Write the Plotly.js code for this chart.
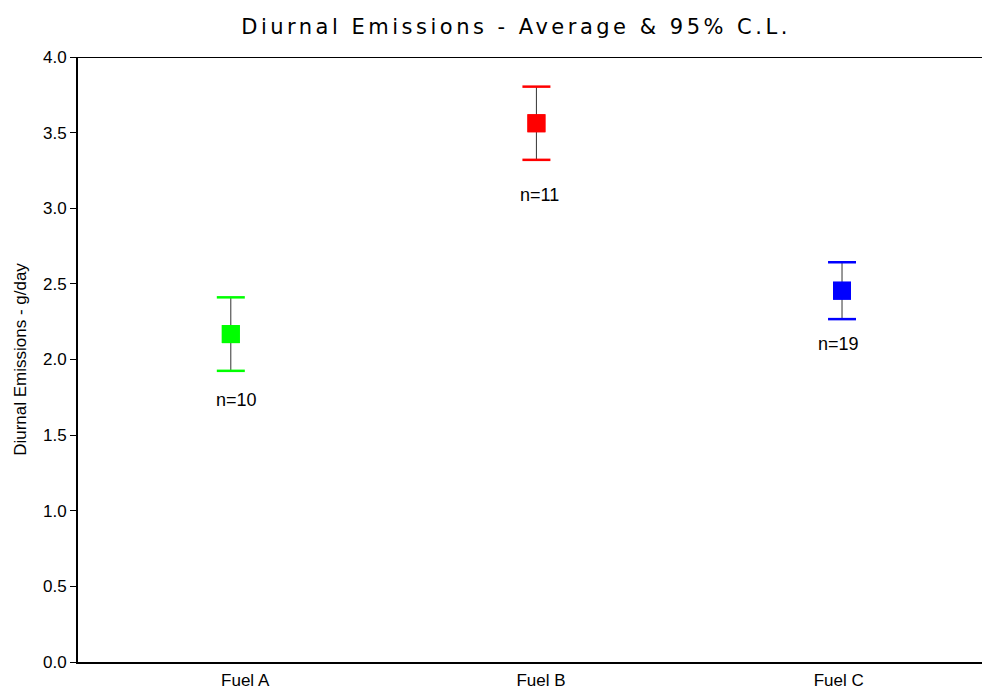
<!DOCTYPE html>
<html>
<head>
<meta charset="utf-8">
<script src="https://cdn.plot.ly/plotly-3.0.1.min.js"></script>
<style>html,body{margin:0;padding:0;background:#fff;}</style>
</head>
<body>
<div id="chart" style="width:982px;height:692px;"></div>
<script>
// Data
var fuels = ["Fuel A", "Fuel B", "Fuel C"];
var fuelX = [1, 2, 3];
var means = [2.168, 3.562, 2.455];
var ci95 = [0.243, 0.242, 0.188];
var nLabels = ["n=10", "n=11", "n=19"];
var nLabelY = [1.73, 3.09, 2.10];
var nLabelX = [1.02, 2.01, 2.99];
var tickPos = [1.047, 2.015, 2.989];
var colors = ["#00ff00", "#ff0000", "#0000ff"];

var upper = means.map(function(m, i){ return m + ci95[i]; });
var lower = means.map(function(m, i){ return m - ci95[i]; });

var FONT = "Arial, 'Liberation Sans', sans-serif";

var stems = {
  x: fuelX, y: means, type: "scatter", mode: "markers",
  marker: {size: 18, symbol: "square", color: colors, line: {width: 0}},
  error_y: {type: "data", array: ci95, visible: true, color: "#333333", thickness: 1, width: 0},
  hoverinfo: "skip", showlegend: false, cliponaxis: false
};
var capsUp = {
  x: fuelX, y: upper, type: "scatter", mode: "markers",
  marker: {symbol: "line-ew", size: 20, color: colors, line: {color: colors, width: 2.5}},
  hoverinfo: "skip", showlegend: false, cliponaxis: false
};
var capsLow = {
  x: fuelX, y: lower, type: "scatter", mode: "markers",
  marker: {symbol: "line-ew", size: 20, color: colors, line: {color: colors, width: 2.5}},
  hoverinfo: "skip", showlegend: false, cliponaxis: false
};
var squares = {
  x: fuelX, y: means, type: "scatter", mode: "markers",
  marker: {size: 18, symbol: "square", color: colors, line: {width: 0}},
  hoverinfo: "skip", showlegend: false, cliponaxis: false
};

var annotations = nLabels.map(function(t, i){
  return {x: nLabelX[i], y: nLabelY[i], xref: "x", yref: "y", text: t, showarrow: false,
    font: {family: FONT, size: 18, color: "#000"}};
});

var layout = {
  width: 982, height: 692,
  margin: {l: 78, r: 0, t: 57, b: 30, pad: 0},
  paper_bgcolor: "#fff", plot_bgcolor: "#fff",
  font: {family: FONT, size: 17, color: "#000"},
  title: {text: "Diurnal Emissions - Average &amp; 95% C.L.", x: 0.5255, xanchor: "center", y: 0.961, yanchor: "middle",
    font: {family: "DejaVu Sans, Verdana, sans-serif", size: 21, color: "#000"}},
  xaxis: {
    range: [0.5, 3.458], showgrid: false, zeroline: false,
    showline: true, linecolor: "#000", linewidth: 2,
    tickmode: "array", tickvals: tickPos, ticktext: fuels,
    ticks: "outside", ticklen: 2, tickcolor: "rgba(0,0,0,0)", tickfont: {family: FONT, size: 17}, fixedrange: true
  },
  yaxis: {
    range: [0, 4], showgrid: false, zeroline: false,
    showline: true, linecolor: "#000", linewidth: 2,
    tickmode: "linear", tick0: 0, dtick: 0.5, tickformat: ".1f",
    ticks: "outside", ticklen: 6, tickwidth: 1, tickcolor: "#000",
    tickfont: {family: FONT, size: 17},
    title: {text: "Diurnal Emissions - g/day", font: {family: FONT, size: 17}, standoff: 12},
    fixedrange: true
  },
  shapes: [{type: "line", xref: "paper", yref: "y", x0: 0, x1: 1, y0: 4, y1: 4,
    line: {color: "#000", width: 2}}],
  annotations: annotations
};

Plotly.newPlot("chart", [stems, capsUp, capsLow, squares], layout, {displayModeBar: false, staticPlot: true}).then(function(gd){
  var t = gd.querySelector(".gtitle");
  if (t) { t.style.letterSpacing = "3.5px"; }
});
</script>
</body>
</html>
